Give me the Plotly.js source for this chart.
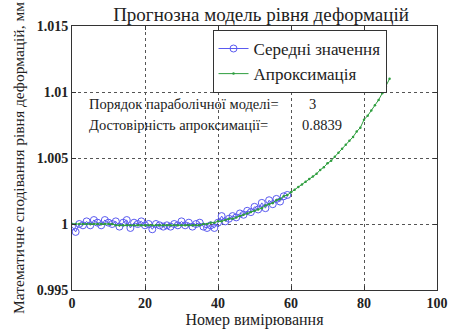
<!DOCTYPE html>
<html><head><meta charset="utf-8">
<script src="https://cdn.plot.ly/plotly-3.0.1.min.js"></script>
<style>html,body{margin:0;padding:0;background:#fff}#chart{width:450px;height:329px}</style>
</head><body><div id="chart"></div>
<script>
// Measured mean values (x = 0..59)
const meanX = [0,1,2,3,4,5,6,7,8,9,10,11,12,13,14,15,16,17,18,19,20,21,22,23,24,25,26,27,28,29,30,31,32,33,34,35,36,37,38,39,40,41,42,43,44,45,46,47,48,49,50,51,52,53,54,55,56,57,58,59];
const meanY = [0.9998,0.9994,1.0000,0.9999,1.0002,0.9999,1.0003,1.0001,0.9999,1.0003,1.0001,1.0000,1.0002,0.9998,1.0001,1.0003,0.9997,1.0001,1.0000,1.0002,0.9999,1.0000,0.9996,1.0000,0.9999,0.9998,0.9999,0.9998,1.0000,0.9999,1.0002,0.9999,1.0001,0.9998,1.0000,1.0001,0.9998,0.9997,0.9999,0.9997,1.0001,1.0006,1.0002,1.0004,1.0006,1.0005,1.0008,1.0007,1.0010,1.0009,1.0013,1.0011,1.0016,1.0012,1.0018,1.0015,1.0019,1.0017,1.0021,1.0022];
// Approximation curve (x = 0..87)
const fitX = [0,1,2,3,4,5,6,7,8,9,10,11,12,13,14,15,16,17,18,19,20,21,22,23,24,25,26,27,28,29,30,31,32,33,34,35,36,37,38,39,40,41,42,43,44,45,46,47,48,49,50,51,52,53,54,55,56,57,58,59,60,61,62,63,64,65,66,67,68,69,70,71,72,73,74,75,76,77,78,79,80,81,82,83,84,85,86,87];
const fitY = [1.0000,1.0000,1.0000,1.0000,1.0000,1.0000,1.0000,1.0000,1.0000,1.0000,1.0000,1.0000,0.9999,0.9999,0.9999,0.9999,0.9999,0.9999,0.9999,0.9999,0.9999,0.9999,0.9999,0.9999,0.9999,0.9999,0.9999,0.9999,0.9999,0.9999,0.9999,0.9999,0.9999,0.9999,0.9999,0.9999,1.0000,1.0000,1.0001,1.0001,1.0002,1.0002,1.0003,1.0004,1.0004,1.0005,1.0006,1.0007,1.0008,1.0009,1.0010,1.0011,1.0012,1.0014,1.0015,1.0016,1.0018,1.0019,1.0021,1.0022,1.0024,1.0026,1.0028,1.0030,1.0032,1.0034,1.0036,1.0038,1.0041,1.0043,1.0046,1.0048,1.0051,1.0054,1.0057,1.0060,1.0063,1.0066,1.0070,1.0073,1.0079,1.0082,1.0086,1.0090,1.0094,1.0099,1.0104,1.0110];
const xTicks = [0,20,40,60,80,100];
const xTickText = ['0','20','40','60','80','100'];
const yTicks = [0.995,1.0,1.005,1.01,1.015];
const yTickText = ['0.995','1','1.005','1.01','1.015'];
const seriesNames = ['Середні значення','Апроксимація'];
const titleText = 'Прогнозна модель рівня деформацій';
const xTitle = 'Номер вимірювання';
const yTitle = 'Математичне сподівання рівня деформацій, мм';
const noteLabels = ['Порядок параболічної моделі=','Достовірність апроксимації='];
const noteValues = ['3','0.8839'];

const serif = 'Liberation Serif';
const f = (size, w) => ({family:serif, size:size, color:'#222', weight: w || 'normal'});
const traces = [
  {x: meanX, y: meanY, name: seriesNames[0], type:'scatter', mode:'lines+markers',
   line:{color:'#5a5af0', width:1},
   marker:{symbol:'circle-open', size:7, color:'#5a5af0', line:{width:1, color:'#5a5af0'}}},
  {x: fitX, y: fitY, name: seriesNames[1], type:'scatter', mode:'lines+markers',
   line:{color:'#2e9e3e', width:1},
   marker:{symbol:'circle', size:2.5, color:'#2e9e3e'}}
];
const axisCommon = {showline:true, mirror:'ticks', linecolor:'#333', linewidth:1, ticks:'inside', ticklen:4, tickcolor:'#333',
  showgrid:true, gridcolor:'#555', griddash:'dot', gridwidth:1, zeroline:false,
  tickfont:f(14, 'bold')};
const layout = {
  width:450, height:329,
  margin:{l:72, r:13, t:26, b:39},
  paper_bgcolor:'#fff', plot_bgcolor:'#fff',
  font:f(13),
  title:{text:titleText, font:f(19), x:0.58, xanchor:'center', y:0.955, yanchor:'middle'},
  xaxis: Object.assign({}, axisCommon, {range:[0,100], tickvals:xTicks, ticktext:xTickText,
    title:{text:xTitle, font:f(16), standoff:0}}),
  yaxis: Object.assign({}, axisCommon, {range:[0.995,1.015], tickvals:yTicks, ticktext:yTickText,
    title:{text:yTitle, font:f(15.5), standoff:8}}),
  showlegend:true,
  legend:{x:0.385, y:0.985, xanchor:'left', yanchor:'top', bgcolor:'#fff', bordercolor:'#333', borderwidth:1,
    font:f(17), tracegroupgap:0, itemwidth:30},
  annotations:[
    {x:4, y:1.0091, xref:'x', yref:'y', text:noteLabels[0], showarrow:false, xanchor:'left', font:f(14.5)},
    {x:64.3, y:1.0091, xref:'x', yref:'y', text:noteValues[0], showarrow:false, xanchor:'left', font:f(14.5)},
    {x:4, y:1.0075, xref:'x', yref:'y', text:noteLabels[1], showarrow:false, xanchor:'left', font:f(14.5)},
    {x:62.5, y:1.0075, xref:'x', yref:'y', text:noteValues[1], showarrow:false, xanchor:'left', font:f(14.5)}
  ]
};
Plotly.newPlot('chart', traces, layout, {displayModeBar:false, staticPlot:true});
</script>
</body></html>
